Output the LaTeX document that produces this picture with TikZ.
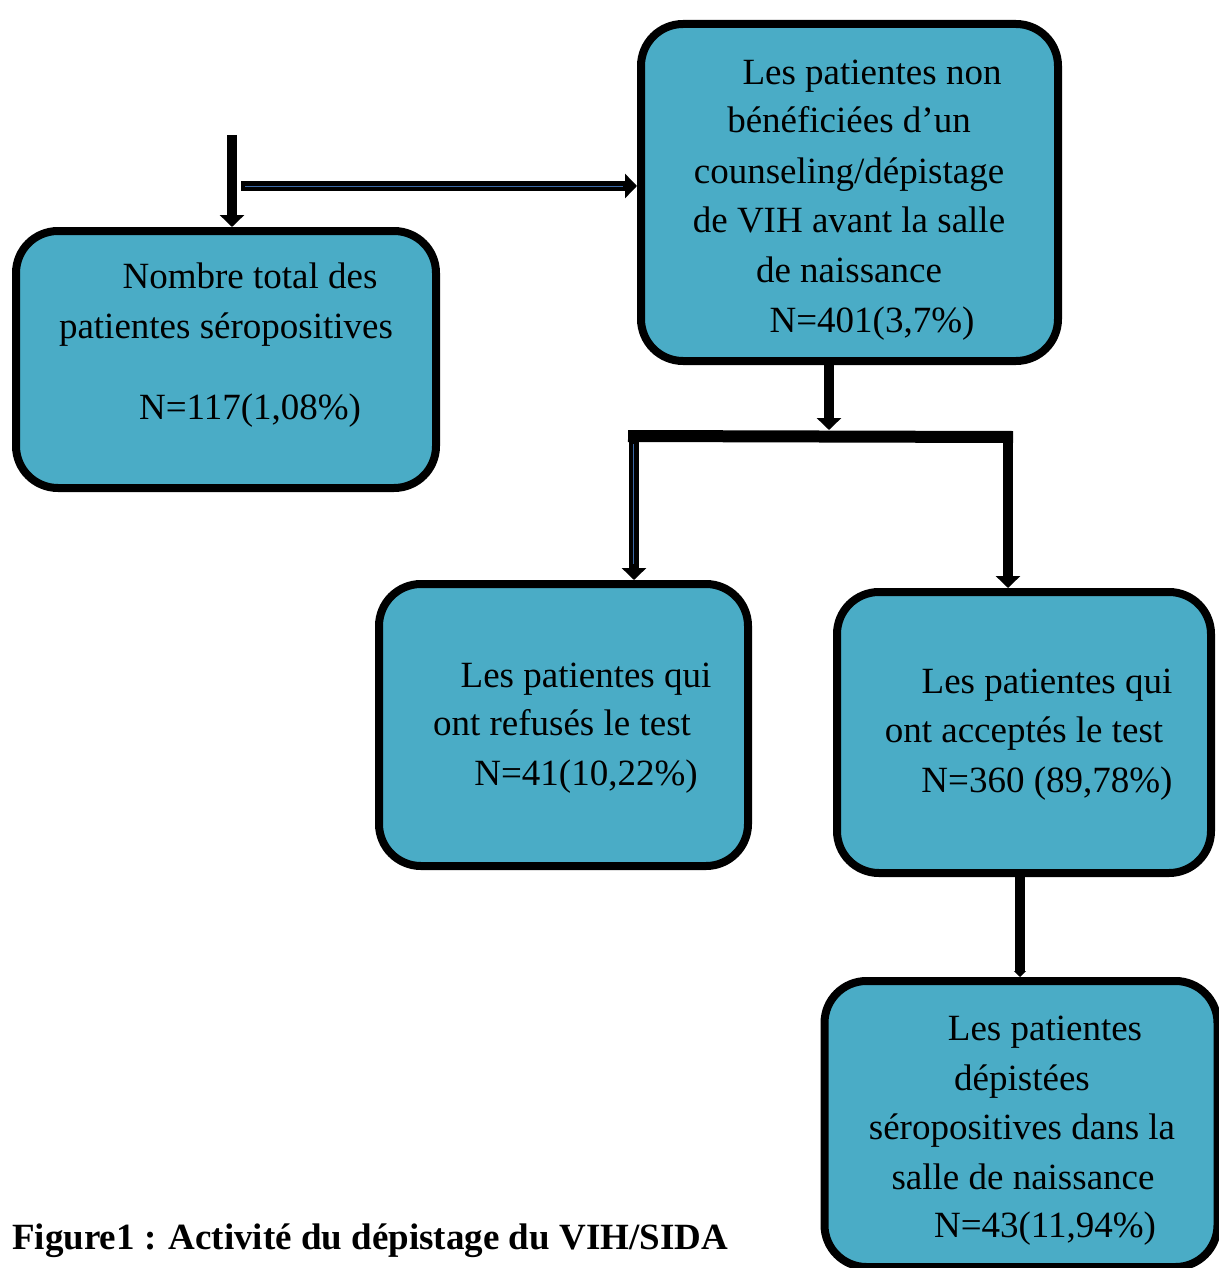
\documentclass[tikz,border=0pt]{standalone}
\usepackage{fontspec}
\setmainfont{Liberation Serif}
\usetikzlibrary{arrows.meta,calc}
\definecolor{boxfill}{HTML}{4AACC6}
\definecolor{stripe}{HTML}{3C6AA8}
\tikzset{
  box/.style={draw=black, line width=8pt, fill=boxfill, rounded corners=42pt, inner sep=0pt},
  txt/.style={anchor=base, inner sep=0pt, font=\fontsize{37}{42}\selectfont},
  conn/.style={line width=10pt, black},
  tip/.style={-{Triangle[width=24pt,length=12pt]}},
  thinstripe/.style={line width=0.9pt, stripe}
}
\begin{document}
\begin{tikzpicture}[x=1pt,y=-1pt]
\useasboundingbox (0,0) rectangle (1218,1268);
% boxes
\node[box, minimum width=420pt, minimum height=257pt] (b1) at (226,359.5) {};
\node[box, minimum width=417pt, minimum height=337pt] (b2) at (849.5,192.5) {};
\node[box, minimum width=369pt, minimum height=282pt] (b3) at (563.5,725) {};
\node[box, minimum width=374pt, minimum height=281pt] (b4) at (1024,732.5) {};
\node[box, minimum width=393pt, minimum height=286pt] (b5) at (1021,1124) {};
% texts box 1
\node[txt] (t1a) at (250,288) {Nombre total des};
\node[txt] (t1b) at (226,338) {patientes séropositives};
\node[txt] (t1c) at (250,419) {N=117(1,08\%)};
% texts box 2
\node[txt] (t2a) at (872,85) {Les patientes non};
\node[txt] (t2b) at (849,133) {bénéficiées d’un};
\node[txt] (t2c) at (849,183) {counseling/dépistage};
\node[txt] (t2d) at (849,232) {de VIH avant la salle};
\node[txt] (t2e) at (849,282) {de naissance};
\node[txt] (t2f) at (872,332) {N=401(3,7\%)};
% texts box 3
\node[txt] (t3a) at (586,687) {Les patientes qui};
\node[txt] (t3b) at (562,735) {ont refusés le test};
\node[txt] (t3c) at (586,785) {N=41(10,22\%)};
% texts box 4
\node[txt] (t4a) at (1047,693) {Les patientes qui};
\node[txt] (t4b) at (1024,742) {ont acceptés le test};
\node[txt] (t4c) at (1047,792) {N=360 (89,78\%)};
% texts box 5
\node[txt] (t5a) at (1045,1040) {Les patientes};
\node[txt] (t5b) at (1022,1090) {dépistées};
\node[txt] (t5c) at (1022,1139) {séropositives dans la};
\node[txt] (t5d) at (1023,1189) {salle de naissance};
\node[txt] (t5e) at (1045,1237) {N=43(11,94\%)};
% caption
\node[anchor=base west, inner sep=0pt, font=\fontsize{37}{42}\selectfont\bfseries] (cap) at (12,1249) {Figure1 : Activité du dépistage du VIH/SIDA};
% connectors
\coordinate (s1) at (232,135);
\draw[conn, tip] (s1) -- (s1 |- b1.north);
\coordinate (s2) at (241,186);
\draw[conn, tip] (s2) -- (s2 -| b2.west);
\draw[thinstripe] ($(s2)+(4,0)$) -- ($(s2 -| b2.west)+(-14,0)$);
\coordinate (s3) at (829,0);
\coordinate (bar) at (829,430);
\draw[conn, tip] (s3 |- b2.south) -- (bar);
\coordinate (barL) at (628,436);
\coordinate (barR) at (1013,437);
\draw[line width=12pt] (barL) -- (barR);
\coordinate (brL) at (634,442);
\coordinate (brR) at (1008,442);
\draw[conn, tip] (brL) -- (brL |- b3.north);
\draw[thinstripe] ($(brL)+(-1,2)$) -- ($(brL |- b3.north)+(-1,-16)$);
\draw[conn, tip] (brR) -- (brR |- b4.north);
\coordinate (s4) at (1020,0);
\draw[conn, -{Triangle[width=12pt,length=6pt]}] (s4 |- b4.south) -- (s4 |- b5.north);
\end{tikzpicture}
\end{document}
